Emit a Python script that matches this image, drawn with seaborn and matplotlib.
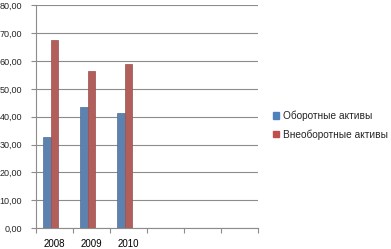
import matplotlib
matplotlib.use("Agg")
import matplotlib.pyplot as plt
import seaborn as sns
import pandas as pd
import numpy as np
from matplotlib.patches import Patch
from matplotlib.ticker import FuncFormatter, MultipleLocator, FixedLocator

years = ["2008", "2009", "2010", "", "", ""]
cat_ids = ["2008", "2009", "2010", "c4", "c5", "c6"]
series = ["Оборотные активы", "Внеоборотные активы", "_empty"]
current = [32.7, 43.6, 41.3]
noncurrent = [67.6, 56.6, 59.1]
colors = ["#4F81BD", "#C0504D", "#9BBB59"]

rows = []
for i, y in enumerate(cat_ids[:3]):
    rows.append({"cat": y, "series": series[0], "value": current[i]})
    rows.append({"cat": y, "series": series[1], "value": noncurrent[i]})
    rows.append({"cat": y, "series": series[2], "value": np.nan})
df = pd.DataFrame(rows)

sns.set_style("white")
plt.rcParams["font.family"] = ["Liberation Sans", "DejaVu Sans"]

fig = plt.figure(figsize=(3.91, 2.49), dpi=100)
ax = fig.add_axes([0.092, 0.084, 0.568, 0.894])

sns.barplot(data=df, x="cat", y="value", hue="series", order=cat_ids,
            hue_order=series, palette=colors, width=0.62, ax=ax,
            legend=False, errorbar=None, edgecolor=None, linewidth=0)

for p in ax.patches:
    fc = p.get_facecolor()
    p.set_edgecolor(tuple(c * 0.85 for c in fc[:3]))
    p.set_linewidth(0.5)

ax.set_xlim(-0.5, 5.5)
ax.set_ylim(0, 80)
ax.yaxis.set_major_locator(MultipleLocator(10))
ax.yaxis.set_major_formatter(FuncFormatter(lambda v, p: f"{v:.2f}".replace(".", ",")))
ax.grid(axis="y", color="#8C8C8C", linewidth=0.8)
ax.set_axisbelow(True)
for s in ["top", "right"]:
    ax.spines[s].set_visible(False)
for s in ["left", "bottom"]:
    ax.spines[s].set_color("#8C8C8C")
    ax.spines[s].set_linewidth(0.8)

ax.set_xticks(range(6))
ax.set_xticklabels(years)
ax.tick_params(axis="x", which="major", length=0, labelsize=7, pad=8, colors="black")
ax.xaxis.set_minor_locator(FixedLocator(np.arange(-0.5, 6.0, 1.0)))
ax.tick_params(axis="x", which="minor", length=3.5, color="#8C8C8C", width=0.8, bottom=True)
ax.tick_params(axis="y", length=3.5, color="#8C8C8C", width=0.8, labelsize=6.5, pad=6.5, left=True)
ax.set_xlabel("")
ax.set_ylabel("")

handles = [Patch(facecolor=colors[0], edgecolor=colors[0]),
           Patch(facecolor=colors[1], edgecolor=colors[1])]
fig.legend(handles, series[:2], loc="center left", bbox_to_anchor=(0.697, 0.497),
           frameon=False, fontsize=7.3, handlelength=0.65, handleheight=0.65,
           handletextpad=0.35, labelspacing=0.75, borderaxespad=0, borderpad=0)

fig.savefig("out.png", dpi=100)
